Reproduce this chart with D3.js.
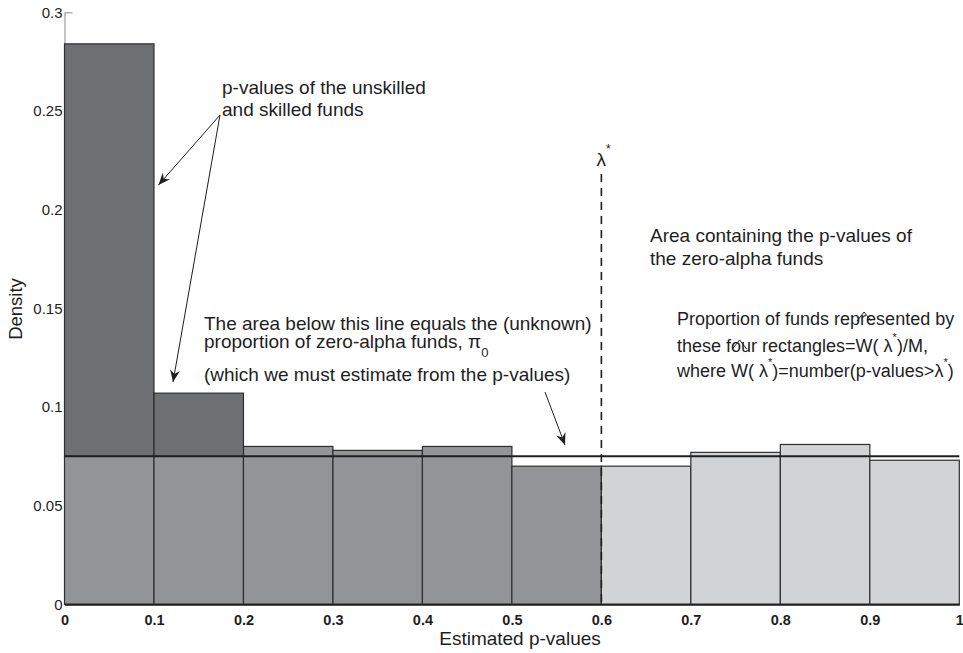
<!DOCTYPE html>
<html>
<head>
<meta charset="utf-8">
<script src="https://cdn.jsdelivr.net/npm/d3@7"></script>
<style>
  body { margin: 0; background: #fff; }
  text { font-family: "Liberation Sans", Arial, Helvetica, sans-serif; fill: #1e1e1e; }
</style>
</head>
<body>
<script>
// histogram of estimated p-values (bin start, density)
const binStarts = [0, 0.1, 0.2, 0.3, 0.4, 0.5, 0.6, 0.7, 0.8, 0.9];
const density = [0.284, 0.107, 0.080, 0.078, 0.080, 0.070, 0.070, 0.077, 0.081, 0.073];
const binWidth = 0.1;
const darkBins = [0, 0.1];      // bins whose excess above pi0 is shaded
const pi0 = 0.075;
const lambdaStar = 0.6;

const xTicks = [0, 0.1, 0.2, 0.3, 0.4, 0.5, 0.6, 0.7, 0.8, 0.9, 1];
const xTickLabels = ['0', '0.1', '0.2', '0.3', '0.4', '0.5', '0.6', '0.7', '0.8', '0.9', '1'];
const yTicks = [0, 0.05, 0.1, 0.15, 0.2, 0.25, 0.3];
const yTickLabels = ['0', '0.05', '0.1', '0.15', '0.2', '0.25', '0.3'];

const w = 963;
const h = 653;
const padLeft = 64.5, padRight = 959.3, padTop = 12.3, padBottom = 604.3;

const svg = d3.select('body').append('svg')
    .attr('width', w)
    .attr('height', h);

const xScale = d3.scaleLinear().domain([0, 1]).range([padLeft, padRight]);
const yScale = d3.scaleLinear().domain([0, 0.3]).range([padBottom, padTop]);

const grayFill = '#939498';
const lightFill = '#d2d3d5';
const darkFill = '#6e6f73';
const edge = '#2e2e2e';

// y axis (thin gray, ticks pointing in)
let yAxis = d3.axisLeft(yScale)
    .tickValues(yTicks)
    .tickFormat((d, i) => yTickLabels[i])
    .tickSizeInner(-8)
    .tickSizeOuter(0)
    .tickPadding(2);

let yg = svg.append('g')
    .attr('transform', 'translate(' + padLeft + ',0)')
    .call(yAxis);
yg.select('.domain').attr('stroke', '#8a8a8a');
yg.selectAll('.tick line').attr('stroke', '#8a8a8a');
yg.selectAll('.tick text')
    .style('font-size', '15px')
    .style('font-family', '"Liberation Sans", Arial, sans-serif')
    .attr('fill', '#1e1e1e');

// lower part of each bar
svg.selectAll('rect.bar')
    .data(binStarts)
    .enter()
    .append('rect')
    .attr('class', 'bar')
    .attr('x', d => xScale(d))
    .attr('width', d => xScale(d + binWidth) - xScale(d))
    .attr('y', (d, i) => yScale(darkBins.includes(d) ? pi0 : density[i]))
    .attr('height', (d, i) => padBottom - yScale(darkBins.includes(d) ? pi0 : density[i]))
    .attr('fill', d => d < lambdaStar ? grayFill : lightFill)
    .attr('stroke', edge)
    .attr('stroke-width', 1.2);

// shaded excess of the skilled / unskilled bins
svg.selectAll('rect.excess')
    .data(binStarts.filter(d => darkBins.includes(d)))
    .enter()
    .append('rect')
    .attr('class', 'excess')
    .attr('x', d => xScale(d))
    .attr('width', d => xScale(d + binWidth) - xScale(d))
    .attr('y', d => yScale(density[binStarts.indexOf(d)]))
    .attr('height', d => yScale(pi0) - yScale(density[binStarts.indexOf(d)]))
    .attr('fill', darkFill)
    .attr('stroke', edge)
    .attr('stroke-width', 1.2);

// pi0 line
svg.append('line')
    .attr('x1', xScale(0)).attr('x2', xScale(1))
    .attr('y1', yScale(pi0)).attr('y2', yScale(pi0))
    .attr('stroke', '#1e1e1e')
    .attr('stroke-width', 2);

// x axis
let xAxis = d3.axisBottom(xScale)
    .tickValues(xTicks)
    .tickFormat((d, i) => xTickLabels[i])
    .tickSize(0)
    .tickPadding(10);

let xg = svg.append('g')
    .attr('transform', 'translate(0,' + padBottom + ')')
    .call(xAxis);
xg.select('.domain').attr('stroke', '#1e1e1e').attr('stroke-width', 2);
xg.selectAll('.tick text')
    .style('font-size', '14.5px')
    .style('font-weight', 'bold')
    .style('font-family', '"Liberation Sans", Arial, sans-serif')
    .attr('fill', '#1e1e1e');

// axis titles
svg.append('text')
    .attr('x', 520).attr('y', 645)
    .attr('text-anchor', 'middle')
    .style('font-size', '19px')
    .text('Estimated p-values');

svg.append('text')
    .attr('transform', 'translate(22,309) rotate(-90)')
    .attr('text-anchor', 'middle')
    .style('font-size', '18.5px')
    .text('Density');

// lambda* dashed line
svg.append('line')
    .attr('x1', xScale(lambdaStar)).attr('x2', xScale(lambdaStar))
    .attr('y1', 174).attr('y2', padBottom)
    .attr('stroke', '#1e1e1e')
    .attr('stroke-width', 1.6)
    .attr('stroke-dasharray', '8,6');

let lam = svg.append('text')
    .attr('x', xScale(lambdaStar) - 5).attr('y', 166)
    .style('font-size', '19px');
lam.append('tspan').text('λ');
lam.append('tspan').attr('dy', -13).style('font-size', '12px').text('*');

// arrows
const defs = svg.append('defs');
defs.append('marker')
    .attr('id', 'arr')
    .attr('viewBox', '-12 -6 14 12')
    .attr('refX', 0).attr('refY', 0)
    .attr('markerWidth', 14).attr('markerHeight', 12)
    .attr('markerUnits', 'userSpaceOnUse')
    .attr('orient', 'auto')
    .append('path')
    .attr('d', 'M0,0 L-12,-5 L-8,0 L-12,5 Z')
    .attr('fill', '#1e1e1e');

const arrows = [
    [220, 115, 158.5, 185],
    [220, 115, 173, 382],
    [545, 392, 565, 445]
];
svg.selectAll('line.arrow')
    .data(arrows)
    .enter()
    .append('line')
    .attr('class', 'arrow')
    .attr('x1', d => d[0]).attr('y1', d => d[1])
    .attr('x2', d => d[2]).attr('y2', d => d[3])
    .attr('stroke', '#1e1e1e')
    .attr('stroke-width', 1)
    .attr('marker-end', 'url(#arr)');

// annotations
let addText = (x, y, str, size) => {
    return svg.append('text')
        .attr('x', x).attr('y', y)
        .style('font-size', size + 'px')
        .text(str);
}

addText(222, 94, 'p-values of the unskilled', 19);
addText(222, 116, 'and skilled funds', 19);

addText(204, 330, 'The area below this line equals the (unknown)', 19);
let p2 = svg.append('text')
    .attr('x', 204).attr('y', 348)
    .style('font-size', '19px');
p2.append('tspan').text('proportion of zero-alpha funds,  π');
p2.append('tspan').attr('dy', 9).style('font-size', '13px').text('0');
addText(204, 381, '(which we must estimate from the p-values)', 19);

addText(650, 242, 'Area containing the p-values of', 19);
addText(650, 265, 'the zero-alpha funds', 19);

addText(677, 325, 'Proportion of funds represented by', 18);

let hatOver = (t, idx, base) => {
    let ext = t.node().getExtentOfChar(idx);
    let cx = ext.x + ext.width / 2;
    let hw = ext.width * 0.42;
    svg.append('path')
        .attr('d', 'M' + (cx - hw) + ',' + (base - 31) + ' L' + cx + ',' + (base - 40) + ' L' + (cx + hw) + ',' + (base - 31))
        .attr('fill', 'none')
        .attr('stroke', '#1e1e1e')
        .attr('stroke-width', 1);
}

let l2 = svg.append('text')
    .attr('x', 677).attr('y', 352)
    .style('font-size', '18px');
l2.append('tspan').text('these four rectangles=W( λ');
l2.append('tspan').attr('dy', -11).style('font-size', '11px').text('*');
l2.append('tspan').attr('dy', 11).text(')/M,');
hatOver(l2, 'these four rectangles='.length, 352);

let l3 = svg.append('text')
    .attr('x', 677).attr('y', 377)
    .style('font-size', '18px');
l3.append('tspan').text('where W( λ');
l3.append('tspan').attr('dy', -11).style('font-size', '11px').text('*');
l3.append('tspan').attr('dy', 11).text(')=number(p-values>λ');
l3.append('tspan').attr('dy', -11).style('font-size', '11px').text('*');
l3.append('tspan').attr('dy', 11).text(')');
hatOver(l3, 'where '.length, 377 + 3);
</script>
</body>
</html>
